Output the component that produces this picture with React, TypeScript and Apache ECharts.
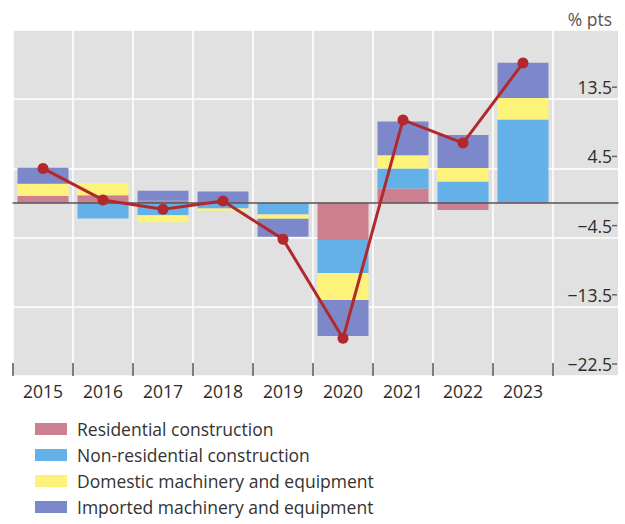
import React, { useEffect, useRef } from 'react';
import * as echarts from 'echarts';

const years = ['2015', '2016', '2017', '2018', '2019', '2020', '2021', '2022', '2023'];
const residential = [0.9, 1.0, 0.3, 0, 0, -4.8, 1.9, -0.9, 0.1];
const nonResidential = [0, -2.0, -1.6, -0.7, -1.5, -4.3, 2.6, 2.8, 10.75];
const domestic = [1.6, 1.6, -0.9, -0.3, -0.55, -3.5, 1.7, 1.75, 2.8];
const imported = [2.1, 0, 1.3, 1.5, -2.35, -4.7, 4.4, 4.3, 4.6];
const total = [4.5, 0.4, -0.8, 0.25, -4.7, -17.6, 10.8, 7.8, 18.2];

const seriesNames = [
  'Residential construction',
  'Non-residential construction',
  'Domestic machinery and equipment',
  'Imported machinery and equipment',
];
const yMin = -22.5;
const yMax = 22.5;
const yStep = 9;
const unitLabel = '% pts';

export default function App() {
  const ref = useRef<HTMLDivElement>(null);
  useEffect(() => {
    const chart = echarts.init(ref.current!, null, { renderer: 'svg' });
    const font = 'Open Sans';
    const colors = ['#cb7f8f', '#63b1e8', '#fdf27a', '#7d88cb'];
    const dataSets = [residential, nonResidential, domestic, imported];
    const bars = dataSets.map((d, i) => ({
      name: seriesNames[i],
      type: 'bar',
      stack: 'total',
      data: d,
      xAxisIndex: 0,
      yAxisIndex: 0,
      barWidth: '85%',
      itemStyle: { color: colors[i] },
      z: 2,
    }));
    const fmt = (v: number) => {
      if (v === yMax) return '';
      const s = v < 0 ? '\u2212' + Math.abs(v) : String(v);
      return `{v|${s}}{t|}`;
    };
    chart.setOption({
      animation: false,
      textStyle: { fontFamily: font },
      grid: [
        { left: 13, right: 72, top: 30, bottom: 148, show: false },
        { left: 13, right: 7, top: 30, bottom: 148, show: true, backgroundColor: '#e1e1e1', borderWidth: 0 },
      ],
      xAxis: [
        {
          type: 'category',
          data: years,
          gridIndex: 0,
          axisLine: { show: false, onZero: false },
          axisTick: { show: true, inside: true, length: 13, lineStyle: { color: '#555', width: 1.5 } },
          splitLine: { show: true, lineStyle: { color: '#fff', width: 1.5 } },
          axisLabel: { color: '#2b2b2b', fontSize: 17.5, margin: 6, fontFamily: font },
        },
        {
          type: 'value',
          gridIndex: 1,
          min: 0,
          max: 1,
          axisLine: { show: true, onZero: true, lineStyle: { color: '#555', width: 1.5 } },
          axisTick: { show: false },
          axisLabel: { show: false },
          splitLine: { show: false },
          z: 5,
        },
      ],
      yAxis: [
        { type: 'value', gridIndex: 0, min: yMin, max: yMax, interval: yStep, show: false },
        {
          type: 'value',
          gridIndex: 1,
          position: 'right',
          min: yMin,
          max: yMax,
          interval: yStep,
          axisLine: { show: false },
          axisTick: { show: false },
          splitLine: { show: true, lineStyle: { color: '#fff', width: 1.5 } },
          axisLabel: {
            inside: true,
            margin: 1,
            color: '#2b2b2b',
            fontSize: 17.5,
            fontFamily: font,
            padding: [0, 0, 24, 0],
            formatter: fmt,
            rich: {
              v: { fontSize: 17.5, color: '#2b2b2b', fontFamily: font },
              t: { width: 5, height: 1.5, backgroundColor: '#666' },
            },
          },
        },
      ],
      legend: {
        data: seriesNames,
        orient: 'vertical',
        left: 35,
        top: 420,
        padding: 0,
        itemWidth: 32,
        itemHeight: 12,
        itemGap: 8,
        icon: 'rect',
        textStyle: { fontSize: 17.5, color: '#333', lineHeight: 18, padding: [0, 0, 0, 5], fontFamily: font },
      },
      graphic: [
        {
          type: 'text',
          right: 13,
          top: 10,
          style: { text: unitLabel, fontSize: 17.5, fill: '#555', fontFamily: font },
        },
      ],
      series: [
        ...bars,
        {
          name: 'Total',
          type: 'line',
          data: total,
          xAxisIndex: 0,
          yAxisIndex: 0,
          symbol: 'circle',
          symbolSize: 11,
          lineStyle: { color: '#b3282d', width: 3 },
          itemStyle: { color: '#b3282d' },
          z: 10,
        },
      ],
    });
    return () => chart.dispose();
  }, []);
  return <div ref={ref} style={{ position: 'absolute', left: 0, top: 0, width: 625, height: 524 }} />;
}
